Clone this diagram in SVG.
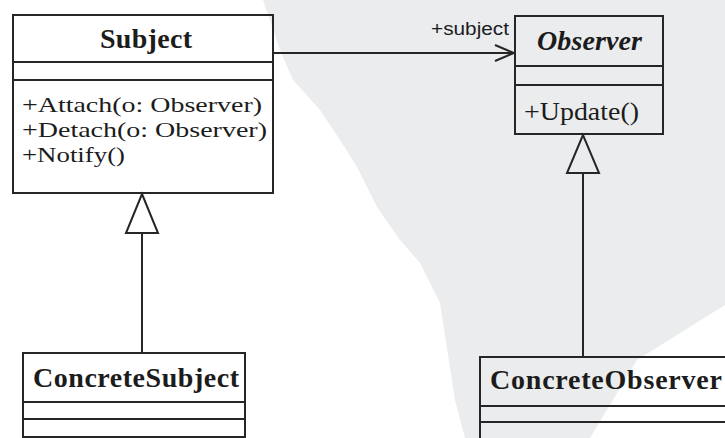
<svg xmlns="http://www.w3.org/2000/svg" width="725" height="438" viewBox="0 0 725 438">
<style>
.box{fill:none;stroke:#262626;stroke-width:2}
.ln{stroke:#262626;stroke-width:2;fill:none}
.tri{stroke:#262626;stroke-width:2;stroke-linejoin:miter}
.title{font-family:"Liberation Serif","Times New Roman",serif;font-weight:bold;font-size:28px;fill:#1c1c1c}
.op{font-family:"Liberation Serif","Times New Roman",serif;font-size:22px;fill:#1c1c1c}
.big{font-size:26px}
.role{font-family:"Liberation Sans",Arial,sans-serif;font-size:18px;fill:#1c1c1c}
</style>
<defs>
<marker id="open" viewBox="0 0 22 18" refX="20" refY="9" markerWidth="22" markerHeight="18" markerUnits="userSpaceOnUse" orient="auto">
<path d="M1,1 L20,9 L1,17" fill="none" stroke="#262626" stroke-width="2"/>
</marker>
</defs>
<rect width="725" height="438" fill="#fff"/>
<polygon points="263,0 725,0 725,305 637,360 590,438 465,438 455,400 440,303 420,263 400,240 377,207 357,167 340,140 320,110 293,80 280,50" fill="#ebecee"/>
<g id="connectors">
<line class="ln" x1="273" y1="53" x2="514" y2="53" marker-end="url(#open)"/>
<text class="role" x="431" y="35" textLength="78" lengthAdjust="spacingAndGlyphs">+subject</text>
<line class="ln" x1="142" y1="233" x2="142" y2="353"/>
<polygon class="tri" points="142,194 126,233 158,233" fill="#fff"/>
<line class="ln" x1="583" y1="173" x2="583" y2="357"/>
<polygon class="tri" points="583,135 567,173 599,173" fill="#ebecee"/>
</g>
<g id="subject">
<rect class="box" x="13" y="15" width="260" height="178"/>
<line class="ln" x1="13" y1="62" x2="273" y2="62"/>
<line class="ln" x1="13" y1="80" x2="273" y2="80"/>
<text class="title" x="100" y="48" textLength="92">Subject</text>
<text class="op" x="22" y="112" textLength="240" lengthAdjust="spacingAndGlyphs">+Attach(o: Observer)</text>
<text class="op" x="22" y="137" textLength="245" lengthAdjust="spacingAndGlyphs">+Detach(o: Observer)</text>
<text class="op" x="22" y="162" textLength="103" lengthAdjust="spacingAndGlyphs">+Notify()</text>
</g>
<g id="observer">
<rect class="box" x="515" y="16" width="148" height="118"/>
<line class="ln" x1="515" y1="66" x2="663" y2="66"/>
<line class="ln" x1="515" y1="85" x2="663" y2="85"/>
<text class="title" x="537" y="50" font-style="italic" textLength="105">Observer</text>
<text class="op big" x="524" y="120" textLength="115" lengthAdjust="spacingAndGlyphs">+Update()</text>
</g>
<g id="concrete-subject">
<rect class="box" x="23" y="353" width="222" height="84"/>
<line class="ln" x1="23" y1="402" x2="245" y2="402"/>
<line class="ln" x1="23" y1="419" x2="245" y2="419"/>
<text class="title" x="33" y="387" textLength="206">ConcreteSubject</text>
</g>
<g id="concrete-observer">
<rect class="box" x="480" y="357" width="260" height="90"/>
<line class="ln" x1="480" y1="406" x2="740" y2="406"/>
<line class="ln" x1="480" y1="422" x2="740" y2="422"/>
<text class="title" x="490" y="389" textLength="232">ConcreteObserver</text>
</g>
</svg>
